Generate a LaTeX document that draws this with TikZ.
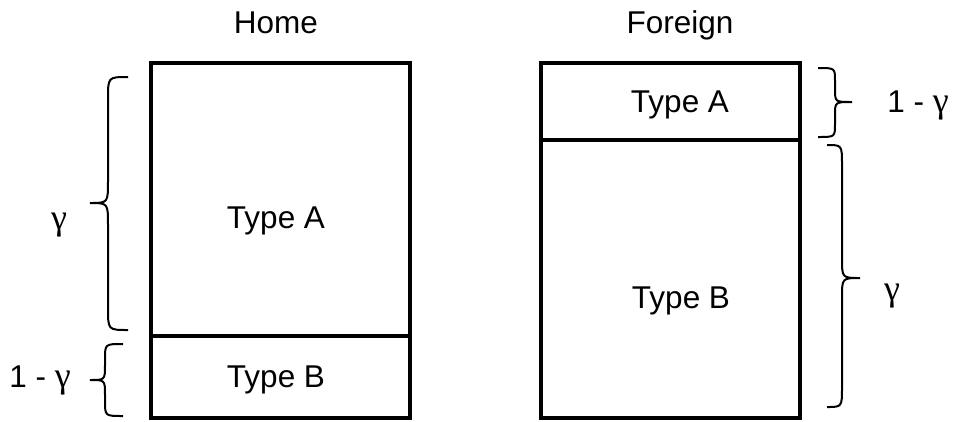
\documentclass[tikz,border=0pt]{standalone}
\usepackage{fontspec}
\setmainfont{Liberation Sans}
\newfontfamily\grk{Liberation Serif}
\newcommand\gam{{\grk\fontsize{36}{40}\selectfont γ}}
\newcommand\bracedraw[7]{\draw[brc] (#1,#4) .. controls (#2,#4) .. (#2,#4+#7) -- (#2,#5-#7) .. controls (#2,#5) .. (#3,#5) .. controls (#2,#5) .. (#2,#5+#7) -- (#2,#6-#7) .. controls (#2,#6) .. (#1,#6);}
\begin{document}
\begin{tikzpicture}[x=1pt,y=-1pt,
  box/.style={draw=black,line width=3.2pt},
  brc/.style={draw=black,line width=2pt},
  lbl/.style={font=\fontsize{31.5}{36}\selectfont,inner sep=0pt}]
\useasboundingbox[fill=white] (0,0) rectangle (956,421);
% boxes
\draw[box] (151,63) rectangle (410,418);
\draw[box] (151,336) -- (410,336);
\draw[box] (541,63) rectangle (800,418);
\draw[box] (541,140) -- (800,140);
% titles
\node[lbl,anchor=base] (home) at (276,33) {Home};
\node[lbl,anchor=base] (foreign) at (680,33) {Foreign};
% box labels
\node[lbl,anchor=base] (hA) at (276,228) {Type A};
\node[lbl,anchor=base] (hB) at (276,387) {Type B};
\node[lbl,anchor=base] (fA) at (680,112) {Type A};
\node[lbl,anchor=base] (fB) at (681,308) {Type B};
% braces
\bracedraw{128}{108}{90}{77}{203}{330}{22}
\bracedraw{123}{105}{90}{344}{380}{416}{15}
\bracedraw{818}{835}{852}{68}{102}{137}{13}
\bracedraw{827}{842}{860}{145}{278}{407}{20}
% brace labels
\node[lbl,anchor=center] (g1) at (59,225) {\gam};
\node[lbl,anchor=base] (g2) at (40,387) {1 - \gam};
\node[lbl,anchor=base] (g3) at (918,112) {1 - \gam};
\node[lbl,anchor=center] (g4) at (892,296) {\gam};
\end{tikzpicture}
\end{document}
